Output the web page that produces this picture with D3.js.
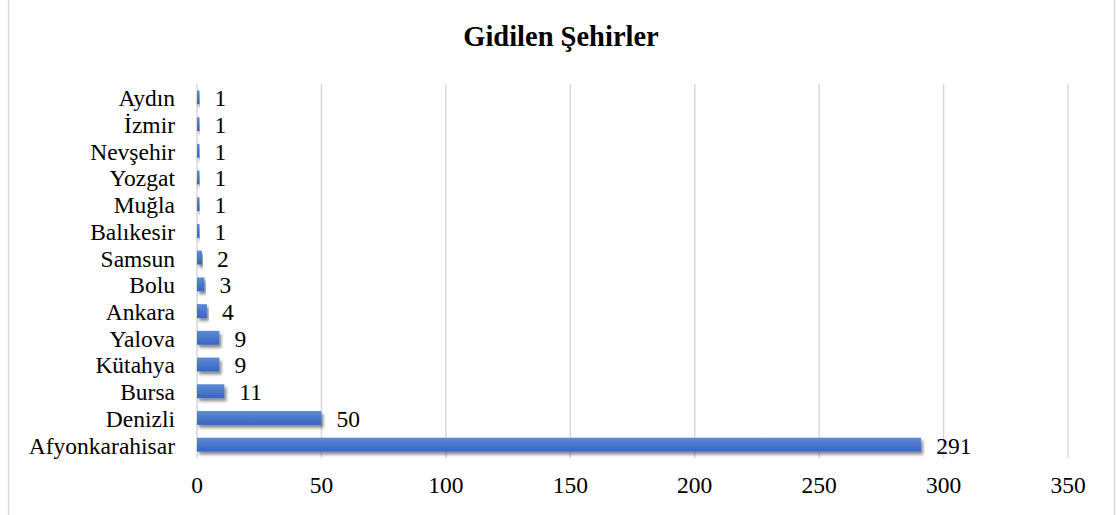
<!DOCTYPE html>
<html>
<head>
<meta charset="utf-8">
<script src="https://cdn.jsdelivr.net/npm/d3@7"></script>
<style>
  html, body { margin: 0; padding: 0; background: #fff; }
  svg { display: block; }
  svg text { font-family: "Liberation Serif", "Times New Roman", "DejaVu Serif", serif; }
</style>
</head>
<body>
<div id="graph"></div>
<script>
// data
const cities = ["Aydın", "İzmir", "Nevşehir", "Yozgat", "Muğla", "Balıkesir", "Samsun",
  "Bolu", "Ankara", "Yalova", "Kütahya", "Bursa", "Denizli", "Afyonkarahisar"];
const counts = [1, 1, 1, 1, 1, 1, 2, 3, 4, 9, 9, 11, 50, 291];
const xTicks = [0, 50, 100, 150, 200, 250, 300, 350];
const title = "Gidilen Şehirler";

const width = 1117;
const height = 515;
const margin = { top: 84, right: 49, bottom: 57, left: 197 };
const serif = "'Liberation Serif', 'Times New Roman', 'DejaVu Serif', serif";

const svg = d3.select("#graph")
    .append("svg")
        .attr("width", width)
        .attr("height", height)
        .attr("font-family", serif);

const defs = svg.append("defs");
const grad = defs.append("linearGradient")
    .attr("id", "barFill")
    .attr("x1", 0).attr("y1", 0).attr("x2", 0).attr("y2", 1);
grad.append("stop").attr("offset", "0%").attr("stop-color", "#5d8bd8");
grad.append("stop").attr("offset", "100%").attr("stop-color", "#3864c0");

defs.append("filter")
    .attr("id", "shadow")
    .attr("x", "-10%").attr("y", "-50%").attr("width", "130%").attr("height", "250%")
  .append("feDropShadow")
    .attr("dx", 2).attr("dy", 3)
    .attr("stdDeviation", 1.6)
    .attr("flood-color", "#000")
    .attr("flood-opacity", 0.45);

// outer frame (only the sides show)
svg.append("line").attr("x1", 8.5).attr("x2", 8.5).attr("y1", 0).attr("y2", height)
    .attr("stroke", "#d9d9d9").attr("stroke-width", 1.5);
svg.append("line").attr("x1", 1114.5).attr("x2", 1114.5).attr("y1", 0).attr("y2", height)
    .attr("stroke", "#d9d9d9").attr("stroke-width", 1.5);

const x = d3.scaleLinear()
    .domain([0, 350])
    .range([margin.left, width - margin.right]);

const y = d3.scaleBand()
    .domain(cities)
    .range([margin.top, height - margin.bottom])
    .paddingInner(0.48)
    .paddingOuter(0.24);

// gridlines
svg.append("g")
    .selectAll("line")
    .data(xTicks)
    .join("line")
        .attr("x1", d => x(d)).attr("x2", d => x(d))
        .attr("y1", margin.top).attr("y2", height - margin.bottom)
        .attr("stroke", "#d9d9d9")
        .attr("stroke-width", 1.5);

// bars
svg.append("g")
    .selectAll("rect")
    .data(cities)
    .join("rect")
        .attr("x", x(0))
        .attr("y", d => y(d))
        .attr("width", (d, i) => x(counts[i]) - x(0))
        .attr("height", y.bandwidth())
        .attr("fill", "url(#barFill)")
        .attr("filter", "url(#shadow)");

// value labels
svg.append("g")
    .selectAll("text")
    .data(cities)
    .join("text")
        .attr("x", (d, i) => x(counts[i]) + 15)
        .attr("y", d => y(d) + y.bandwidth() / 2)
        .attr("dy", "0.38em")
        .attr("font-family", serif)
        .attr("font-size", "23.5px")
        .attr("fill", "#000")
        .text((d, i) => counts[i]);

// category labels
svg.append("g")
    .selectAll("text")
    .data(cities)
    .join("text")
        .attr("x", margin.left - 22)
        .attr("y", d => y(d) + y.bandwidth() / 2)
        .attr("dy", "0.38em")
        .attr("text-anchor", "end")
        .attr("font-family", serif)
        .attr("font-size", "23.5px")
        .attr("fill", "#000")
        .text(d => d);

// x tick labels
svg.append("g")
    .selectAll("text")
    .data(xTicks)
    .join("text")
        .attr("x", d => x(d))
        .attr("y", 493)
        .attr("text-anchor", "middle")
        .attr("font-family", serif)
        .attr("font-size", "23.5px")
        .attr("fill", "#000")
        .text(d => d);

svg.append("text")
    .attr("x", 561)
    .attr("y", 46)
    .attr("text-anchor", "middle")
    .attr("font-family", serif)
    .attr("font-size", "28.5px")
    .attr("font-weight", "bold")
    .text(title);
</script>
</body>
</html>
